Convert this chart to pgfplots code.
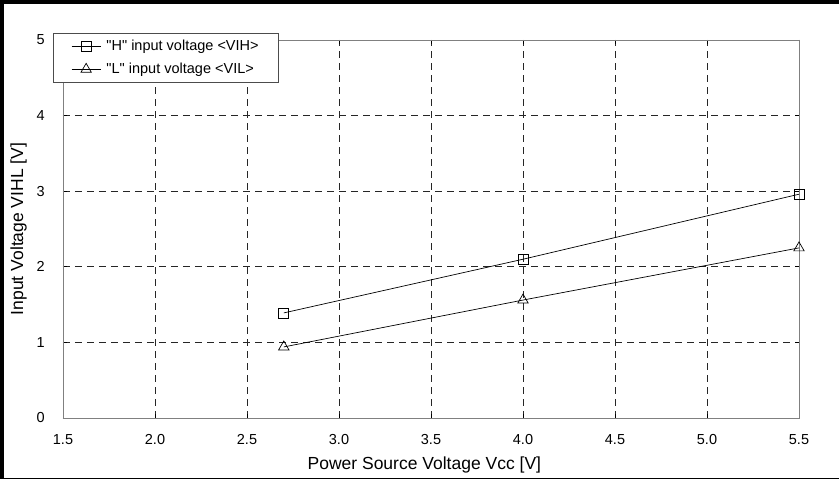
\documentclass[border=0pt]{standalone}
\usepackage{fontspec}
\setmainfont{Liberation Sans}[Ligatures=TeXOff]
\usepackage{pgfplots}
\pgfplotsset{compat=1.18}
\begin{document}
\begin{tikzpicture}
\useasboundingbox (-63pt,-61pt) rectangle (776pt,418pt);
\begin{axis}[
  scale only axis, width=736pt, height=378pt,
  at={(0pt,0pt)}, anchor=south west,
  xmin=1.5, xmax=5.5, ymin=0, ymax=5,
  xtick={1.5,2.0,2.5,3.0,3.5,4.0,4.5,5.0,5.5},
  ytick={0,1,2,3,4,5},
  grid=major,
  major grid style={black!85, dash pattern=on 7pt off 5pt, line width=0.6pt},
  axis line style={black!50, line width=0.8pt},
  tick style={black, line width=0.6pt}, major tick length=4pt, tick align=inside,
  xticklabel style={/pgf/number format/fixed, /pgf/number format/fixed zerofill, /pgf/number format/precision=1},
  /pgf/number format/assume math mode=true,
  ticklabel style={font=\fontsize{14.5}{17}\selectfont},
  xticklabel style={inner sep=0pt, yshift=-16pt},
  yticklabel style={inner sep=0pt, xshift=-18pt},
  xlabel={Power Source Voltage Vcc [V]},
  ylabel={Input Voltage VIHL [V]},
  label style={font=\fontsize{17.5}{20}\selectfont},
  xlabel style={at={(axis description cs:0.491,0)}, anchor=base, yshift=-52pt},
  ylabel style={at={(axis description cs:-0.0543,0.5)}, anchor=base},
  legend style={at={(axis description cs:-0.0136,1.0185)}, anchor=north west,
    draw=black!70, line width=0.6pt, fill=white, inner xsep=18pt, inner ysep=1.5pt,
    font=\fontsize{14.5}{17}\selectfont, column sep=4pt,
    nodes={inner xsep=1.5pt, inner ysep=5.5pt}},
  legend cell align=left,
  legend image code/.code={\draw[mark repeat=2,mark phase=2,#1] plot coordinates {(0pt,0pt) (14.5pt,0pt) (29pt,0pt)};},
]
\addplot[black, line width=0.7pt, mark=square, mark size=5pt, mark options={solid, line width=0.7pt}]
  coordinates {(2.7,1.39) (4.0,2.10) (5.5,2.96)};
\addlegendentry{"H" input voltage <VIH>}
\addplot[black, line width=0.7pt, mark=triangle, mark size=6pt, mark options={solid, line width=0.7pt}]
  coordinates {(2.7,0.94) (4.0,1.56) (5.5,2.25)};
\addlegendentry{"L" input voltage <VIL>}
\end{axis}
\draw[line width=4pt] (-63pt,416pt) -- (776pt,416pt);
\draw[line width=4pt] (-61pt,-61pt) -- (-61pt,418pt);
\draw[line width=1.2pt] (-63pt,-60.2pt) -- (776pt,-60.2pt);
\end{tikzpicture}
\end{document}
